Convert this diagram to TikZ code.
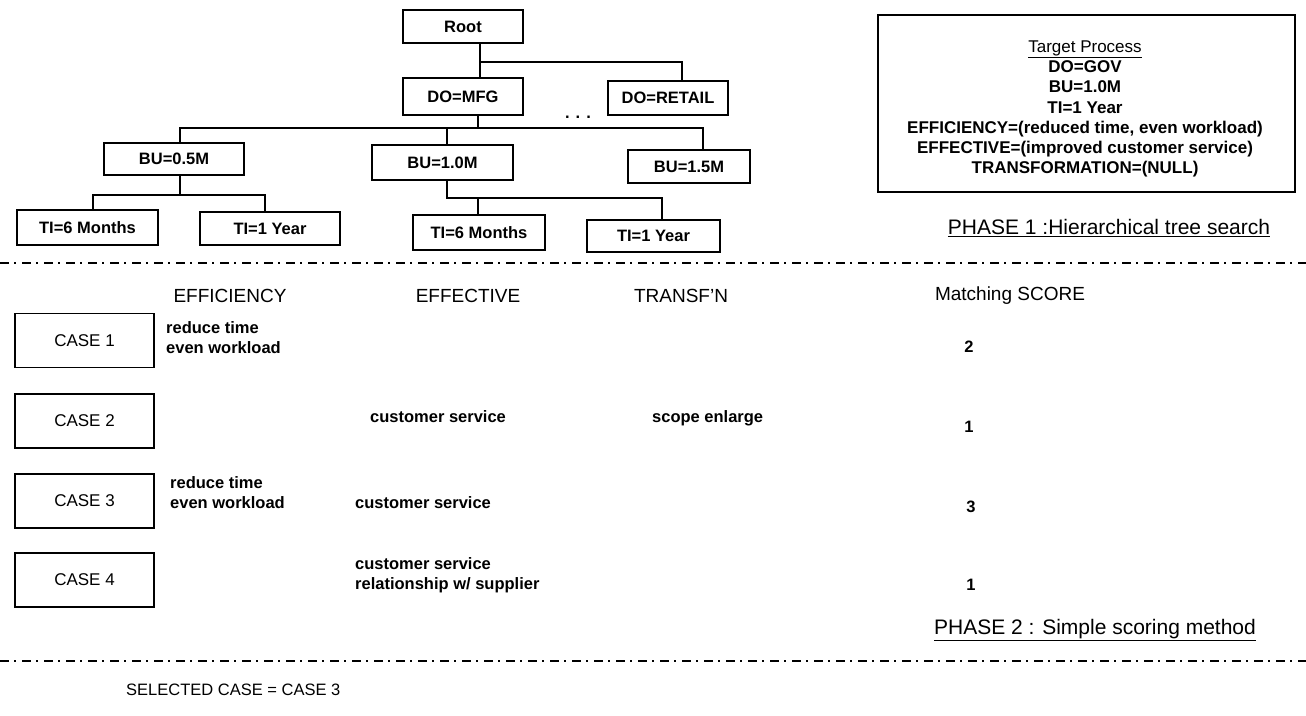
\documentclass[tikz,border=0pt]{standalone}
\usepackage{fontspec}
\setmainfont{Liberation Sans}
\usetikzlibrary{calc}
\newcommand\mytreefont{\fontsize{16.5}{19}\selectfont\bfseries}
\newcommand\myheadfont{\fontsize{19}{22}\selectfont}
\newcommand\mycasefont{\fontsize{17}{20}\selectfont}
\newcommand\myentryfont{\fontsize{16.5}{20}\selectfont\bfseries}
\newcommand\mytargetfont{\fontsize{17}{20.3}\selectfont\bfseries}
\newcommand\myphasefont{\fontsize{21}{24}\selectfont}
\begin{document}
\begin{tikzpicture}[x=1pt,y=-1pt,
  tbox/.style={draw, line width=1.6pt, font=\mytreefont, inner sep=0pt},
  casebox/.style={draw, line width=1.6pt, minimum width=139pt, minimum height=54pt, font=\mycasefont},
  conn/.style={line width=1.4pt},
  divider/.style={line width=1.8pt, dash pattern=on 9pt off 5pt on 2pt off 6pt},
  head/.style={font=\myheadfont, inner sep=0pt},
  entry/.style={font=\myentryfont, anchor=west, inner sep=0pt, align=left},
  score/.style={font=\myentryfont, inner sep=0pt},
  phase/.style={font=\myphasefont, inner sep=0pt}]
\useasboundingbox (0,0) rectangle (1306,715);

% ---- Phase 1: hierarchical tree ----
\node[tbox, minimum width=120pt, minimum height=33pt] (root)   at (463,26.5)  {Root};
\node[tbox, minimum width=120pt, minimum height=37pt] (mfg)    at (463,96.5)  {DO=MFG};
\node[tbox, minimum width=120pt, minimum height=34pt] (retail) at (668,98)    {DO=RETAIL};
\node[font=\mytreefont, inner sep=0pt] (more) at (578,117) {. . .};

\node[tbox, minimum width=140pt, minimum height=32pt] (bua) at (174,159)     {BU=0.5M};
\node[tbox, minimum width=141pt, minimum height=35pt] (bub) at (442.5,162.5) {BU=1.0M};
\node[tbox, minimum width=122pt, minimum height=33pt] (buc) at (689,166.5)   {BU=1.5M};

\node[tbox, minimum width=141pt, minimum height=35pt] (tiaa) at (87.5,227.5) {TI=6 Months};
\node[tbox, minimum width=140pt, minimum height=33pt] (tiab) at (270,228.5)  {TI=1 Year};
\node[tbox, minimum width=132pt, minimum height=35pt] (tiba) at (479,232.5)  {TI=6 Months};
\node[tbox, minimum width=133pt, minimum height=32pt] (tibb) at (653.5,236)  {TI=1 Year};

% attachment points of the connectors on each box
\coordinate (rootS)   at ($(root.south)+(17,0)$);
\coordinate (mfgN)    at ($(mfg.north)+(17,0)$);
\coordinate (retailN) at ($(retail.north)+(14,0)$);
\coordinate (mfgS)    at ($(mfg.south)+(15,0)$);
\coordinate (buaN)    at ($(bua.north)+(6,0)$);
\coordinate (bubN)    at ($(bub.north)+(4.5,0)$);
\coordinate (bucN)    at ($(buc.north)+(14,0)$);
\coordinate (buaS)    at ($(bua.south)+(6,0)$);
\coordinate (bubS)    at ($(bub.south)+(4.5,0)$);
\coordinate (tiaaN)   at ($(tiaa.north)+(5.5,0)$);
\coordinate (tiabN)   at ($(tiab.north)+(-5,0)$);
\coordinate (tibaN)   at ($(tiba.north)+(-1,0)$);
\coordinate (tibbN)   at ($(tibb.north)+(8.5,0)$);

% horizontal buses
\coordinate (j0) at (480,62);
\coordinate (j1) at (478,128);
\coordinate (j2) at (180,195);
\coordinate (j3) at (447,198);

\draw[conn] (rootS) -- (mfgN);
\draw[conn] (j0) -| (retailN);

\draw[conn] (mfgS) -- (j1);
\draw[conn] (buaN) |- (j1) -| (bucN);
\draw[conn] (bubN) -- (bubN |- j1);

\draw[conn] (buaS) -- (buaS |- j2);
\draw[conn] (tiaaN) |- (j2) -| (tiabN);

\draw[conn] (bubS) |- (j3) -| (tibbN);
\draw[conn] (tibaN) -- (tibaN |- j3);

% target process description
\node[draw, line width=1.6pt, minimum width=417pt, minimum height=177pt] (target) at (1086.5,103.5) {};
\node[align=center, font=\mytargetfont, inner sep=0pt] (targettext) at (1085,109)
  {{\mdseries\underline{Target Process}}\\
   DO=GOV\\ BU=1.0M\\ TI=1 Year\\
   EFFICIENCY=(reduced time, even workload)\\
   EFFECTIVE=(improved customer service)\\
   TRANSFORMATION=(NULL)};
\node[phase] (phaseone) at (1109,228) {\underline{PHASE 1 :Hierarchical tree search}};

\coordinate (d1l) at (0,263);
\coordinate (d1r) at (1306,263);
\draw[divider] (d1l) -- (d1r);

% ---- Phase 2: scoring table ----
\node[head] (hef)  at (230,296)  {EFFICIENCY};
\node[head] (hev)  at (468,296)  {EFFECTIVE};
\node[head] (htr)  at (681,296)  {TRANSF'N};
\node[head] (hsc)  at (1010,296) {Matching SCORE};

\node[casebox] (c1) at (84.5,340.5) {CASE 1};
\node[casebox] (c2) at (84.5,421)   {CASE 2};
\node[casebox] (c3) at (84.5,501)   {CASE 3};
\node[casebox] (c4) at (84.5,580)   {CASE 4};

\node[entry] (c1ef) at (166,338) {reduce time\\even workload};
\node[score] (c1s)  at (969,347) {2};

\node[entry] (c2ev) at (370,417) {customer service};
\node[entry] (c2tr) at (652,418) {scope enlarge};
\node[score] (c2s)  at (969,427) {1};

\node[entry] (c3ef) at (170,493) {reduce time\\even workload};
\node[entry] (c3ev) at (355,503) {customer service};
\node[score] (c3s)  at (971,507) {3};

\node[entry] (c4ev) at (355,575.5) {customer service\\relationship w/ supplier};
\node[score] (c4s)  at (971,585) {1};

\node[phase] (phasetwo) at (1095,630) {\underline{PHASE 2 : Simple scoring method}};

\coordinate (d2l) at (0,661);
\coordinate (d2r) at (1306,661);
\draw[divider] (d2l) -- (d2r);

\node[font=\fontsize{16.5}{20}\selectfont, anchor=west, inner sep=0pt] (sel) at (126,690) {SELECTED CASE = CASE 3};
\end{tikzpicture}
\end{document}
